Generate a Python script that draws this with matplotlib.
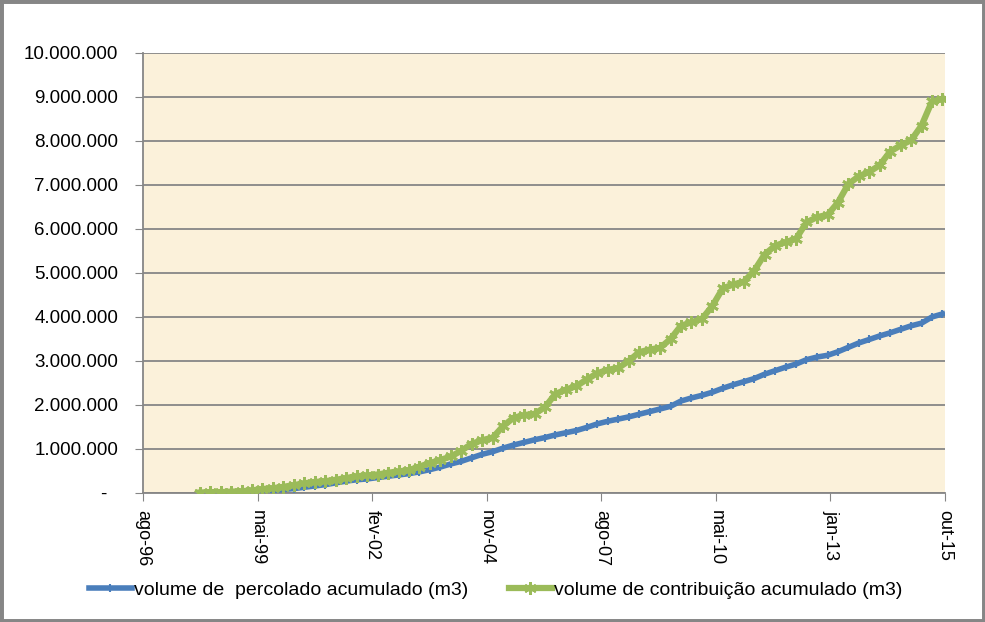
import numpy as np
import pandas as pd
import matplotlib
matplotlib.use("Agg")
import matplotlib.pyplot as plt
from matplotlib.ticker import FuncFormatter
from matplotlib.patches import Rectangle

plt.rcParams['font.family'] = ['Liberation Sans', 'DejaVu Sans']

# quarterly readings, 1998-01 .. 2015-10 (values in millions of m3)
dates = pd.date_range('1998-01-01', '2015-10-01', freq='QS')

percolado = [0.00, 0.01, 0.01, 0.02, 0.02, 0.03, 0.04, 0.06,
             0.08, 0.10, 0.13, 0.16, 0.19, 0.23, 0.27, 0.30,
             0.32, 0.35, 0.38, 0.41, 0.44, 0.48, 0.53, 0.59,
             0.66, 0.72, 0.80, 0.88, 0.94, 1.02, 1.09, 1.15,
             1.21, 1.26, 1.32, 1.37, 1.42, 1.49, 1.57, 1.63,
             1.68, 1.73, 1.79, 1.85, 1.91, 1.97, 2.09, 2.16,
             2.22, 2.29, 2.38, 2.46, 2.53, 2.60, 2.70, 2.78,
             2.86, 2.93, 3.03, 3.09, 3.13, 3.21, 3.31, 3.41,
             3.49, 3.57, 3.64, 3.72, 3.80, 3.86, 4.00, 4.07]

contribuicao = [0.01, 0.02, 0.02, 0.03, 0.04, 0.06, 0.09, 0.11,
                0.14, 0.18, 0.22, 0.25, 0.27, 0.30, 0.34, 0.38,
                0.40, 0.42, 0.46, 0.49, 0.52, 0.60, 0.68, 0.75,
                0.83, 0.96, 1.12, 1.20, 1.26, 1.52, 1.71, 1.77,
                1.80, 1.95, 2.25, 2.35, 2.43, 2.58, 2.72, 2.80,
                2.84, 3.00, 3.20, 3.26, 3.30, 3.50, 3.80, 3.88,
                3.96, 4.25, 4.65, 4.74, 4.80, 5.05, 5.42, 5.62,
                5.70, 5.78, 6.15, 6.27, 6.32, 6.60, 7.02, 7.20,
                7.30, 7.45, 7.76, 7.90, 8.02, 8.35, 8.90, 8.95]

tick_labels = ['ago-96', 'mai-99', 'fev-02', 'nov-04',
               'ago-07', 'mai-10', 'jan-13', 'out-15']

label_perc = 'volume de  percolado acumulado (m3)'
label_contr = 'volume de contribuição acumulado (m3)'

percolado = np.array(percolado) * 1e6
contribuicao = np.array(contribuicao) * 1e6

fig = plt.figure(figsize=(9.85, 6.22), dpi=100)
ax = fig.add_axes([0.1452, 0.2074, 0.8142, 0.7074])
ax.set_facecolor('#FBF1DA')

ax.plot(dates, percolado, color='#4A7EBB', lw=4, marker='|', ms=6, mew=1.5,
        label=label_perc, zorder=3)
ax.plot(dates, contribuicao, color='#9BBB59', lw=4.5, marker=(6, 2, 0), ms=9, mew=2,
        label=label_contr, zorder=4)

# excel date axis: start 1996-08-23, major unit 1000 days
start = np.datetime64('1996-08-23')
ticks = start + np.arange(8) * 1000
ax.set_xlim(ticks[0], ticks[-1])
ax.set_xticks(ticks)
ax.set_xticklabels(tick_labels, rotation=-90, fontsize=13)

ax.set_ylim(0, 10e6)
ax.set_yticks(np.arange(0, 10.1e6, 1e6))

def fmt(v, pos):
    if v == 0:
        return '-  '
    return f'{int(round(v)):,}'.replace(',', '.')

ax.yaxis.set_major_formatter(FuncFormatter(fmt))
ax.tick_params(axis='y', labelsize=13.5, length=6, color='#868686', pad=12)
ax.tick_params(axis='x', length=6, color='#868686', pad=6)

ax.grid(axis='y', color='#868686', lw=1.3)
ax.set_axisbelow(True)
for s in ['top', 'right']:
    ax.spines[s].set_visible(False)
for s in ['left', 'bottom']:
    ax.spines[s].set_color('#868686')
    ax.spines[s].set_linewidth(1.3)

fig.legend(loc='center', bbox_to_anchor=(0.503, 0.051), ncol=2, frameon=False,
           fontsize=14, handlelength=2.2, columnspacing=2.1, handletextpad=0.1)

fig.patches.append(Rectangle((0, 0), 1, 1, transform=fig.transFigure, fill=False,
                             edgecolor='#868686', lw=5))

fig.savefig('out.png', dpi=100)
